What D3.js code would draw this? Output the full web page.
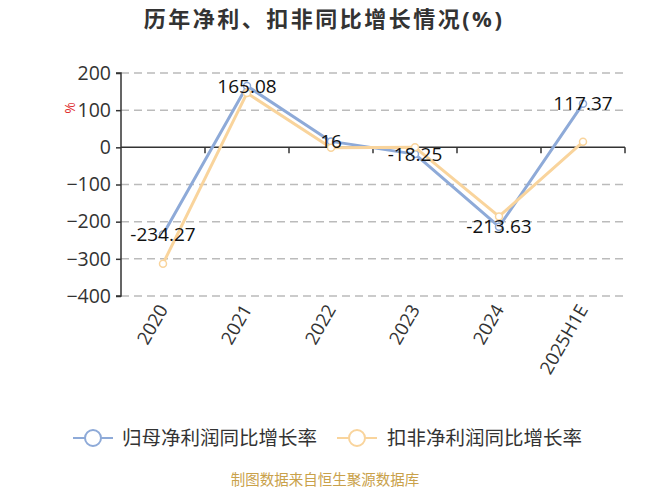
<!DOCTYPE html>
<html><head><meta charset="utf-8">
<script src="https://cdn.jsdelivr.net/npm/d3@7/dist/d3.min.js"></script>
<style>body{margin:0;background:#fff}svg{display:block}text{font-family:"Open Sans","Noto Sans","Noto Sans CJK SC",sans-serif}</style>
</head><body><div id="c"></div>
<script>
const title = "历年净利、扣非同比增长情况(%)";
const categories = ["2020","2021","2022","2023","2024","2025H1E"];
const seriesNames = ["归母净利润同比增长率","扣非净利润同比增长率"];
const netProfitGrowth = [-234.27,165.08,16,-18.25,-213.63,117.37];
const deductedGrowth = [-313,146,-1,0,-186,15];
const yTicks = [200,100,0,-100,-200,-300,-400];
const colors = ["#8eaad8","#f9d49c"];
const source = "制图数据来自恒生聚源数据库";

const W=650,H=488;
const svg=d3.select("#c").append("svg").attr("width",W).attr("height",H);
const m={l:121,r:625,t:73,b:296};
const x=d3.scaleBand().domain(categories).range([m.l,m.r]);
const y=d3.scaleLinear().domain([-400,200]).range([m.b,m.t]);
const cx=d=>x(d)+x.bandwidth()/2;

svg.append("text").attr("x",324).attr("y",27).attr("text-anchor","middle")
  .attr("font-size",22).attr("font-weight","bold").attr("fill","#333").attr("letter-spacing",2.5).text(title);

// grid
svg.append("g").selectAll("line").data(yTicks.filter(v=>v!==0)).join("line")
  .attr("x1",m.l).attr("x2",m.r).attr("y1",d=>y(d)).attr("y2",d=>y(d))
  .attr("stroke","#bbb").attr("stroke-width",1.5).attr("stroke-dasharray","8,5");

// y axis
const ya=svg.append("g").attr("transform",`translate(${m.l},0)`)
  .call(d3.axisLeft(y).tickValues(yTicks).tickSize(5).tickPadding(5).tickFormat(d3.format("d")));
ya.select(".domain").attr("stroke","#333").attr("stroke-width",1.5).attr("d",`M-5,${m.t}H0V${m.b}H-5`);
ya.selectAll(".tick line").attr("stroke","#333").attr("stroke-width",1.5);
ya.selectAll(".tick text").attr("font-size",19.5).attr("fill","#333").attr("font-family","'Open Sans',sans-serif");

// x axis at 0
const xa=svg.append("g").attr("transform",`translate(0,${y(0)})`)
  .call(d3.axisBottom(x).tickSize(0).tickFormat(""));
xa.select(".domain").attr("stroke","#333").attr("stroke-width",1.5).attr("d",`M${m.l},0H${m.r}`);
xa.selectAll(".tick").remove();
svg.append("g").selectAll("line").data(categories.map(c=>x(c)+x.bandwidth())).join("line")
  .attr("x1",d=>d).attr("x2",d=>d).attr("y1",y(0)).attr("y2",y(0)+6).attr("stroke","#333").attr("stroke-width",1.5);

// x labels at bottom
svg.append("g").selectAll("text").data(categories).join("text")
  .attr("transform",d=>`translate(${cx(d)},${m.b+10}) rotate(-60)`)
  .attr("text-anchor","end").attr("dy","0.35em").attr("font-size",18.5).attr("fill","#333").text(d=>d);

// % unit
svg.append("text").attr("transform","translate(70,108) rotate(-90)").attr("text-anchor","middle").attr("dy","0.35em")
  .attr("font-size",14).attr("fill","#e03030").text("%");

const line=d3.line().x((d,i)=>cx(categories[i])).y(d=>y(d));
[netProfitGrowth,deductedGrowth].forEach((s,k)=>{
  svg.append("path").attr("d",line(s)).attr("fill","none").attr("stroke",colors[k]).attr("stroke-width",3).attr("stroke-linejoin","round");
  svg.append("g").selectAll("circle").data(s).join("circle")
    .attr("cx",(d,i)=>cx(categories[i])).attr("cy",d=>y(d)).attr("r",3.5)
    .attr("fill","#fff").attr("stroke",colors[k]).attr("stroke-width",1.5);
});
svg.append("g").selectAll("text").data(netProfitGrowth).join("text")
  .attr("x",(d,i)=>cx(categories[i])).attr("y",d=>y(d)).attr("dy","0.35em").attr("text-anchor","middle")
  .attr("font-size",19).attr("fill","#111").text(d=>d);

// legend
const lg=[{x:73,tx:122},{x:337,tx:387}];
seriesNames.forEach((n,k)=>{
  const g=svg.append("g");
  g.append("line").attr("x1",lg[k].x).attr("x2",lg[k].x+40).attr("y1",438).attr("y2",438).attr("stroke",colors[k]).attr("stroke-width",2);
  g.append("circle").attr("cx",lg[k].x+20).attr("cy",438).attr("r",8).attr("fill","#fff").attr("stroke",colors[k]).attr("stroke-width",2);
  g.append("text").attr("x",lg[k].tx).attr("y",438).attr("dy","0.35em").attr("font-size",19.5).attr("fill","#333").text(n);
});

svg.append("text").attr("x",325).attr("y",480).attr("dy","0.35em").attr("text-anchor","middle")
  .attr("font-size",14.5).attr("fill","#c9a14a").text(source);
</script></body></html>
